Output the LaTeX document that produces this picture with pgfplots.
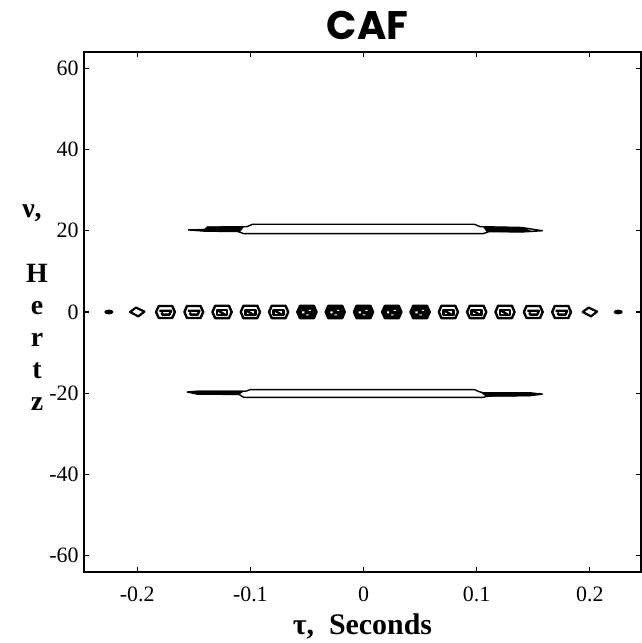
\documentclass[border=0pt]{standalone}
\usepackage{fontspec}
\setmainfont{Liberation Serif}
\newfontfamily\titlefont{Poppins}
\usepackage{pgfplots}
\pgfplotsset{compat=1.18}
\usetikzlibrary{calc}

\newcommand\hexpath[2]{%
 \pgfpathmoveto{\pgfpoint{-#1}{0pt}}%
 \pgfpathlineto{\pgfpoint{-0.72*#1}{#2}}%
 \pgfpathlineto{\pgfpoint{0.72*#1}{#2}}%
 \pgfpathlineto{\pgfpoint{#1}{0pt}}%
 \pgfpathlineto{\pgfpoint{0.72*#1}{-#2}}%
 \pgfpathlineto{\pgfpoint{-0.72*#1}{-#2}}%
 \pgfpathclose}

\pgfdeclareplotmark{cafdark}{%
 \pgfsetroundjoin
 \hexpath{4.8bp}{3.1bp}\pgfusepath{fill,stroke}%
 \pgfscope
 \pgfsetfillcolor{white}%
 \pgfpathrectangle{\pgfpoint{-2.4bp}{-0.7bp}}{\pgfpoint{1.1bp}{1.0bp}}%
 \pgfpathrectangle{\pgfpoint{0.9bp}{0.5bp}}{\pgfpoint{1.1bp}{0.6bp}}%
 \pgfpathrectangle{\pgfpoint{-0.4bp}{-1.7bp}}{\pgfpoint{1.3bp}{0.5bp}}%
 \pgfusepath{fill}%
 \endpgfscope}

\pgfdeclareplotmark{cafrect}{%
 \pgfsetroundjoin
 \hexpath{4.8bp}{3.1bp}\pgfusepath{stroke}%
 \pgfpathrectangle{\pgfpoint{-2.5bp}{-1.4bp}}{\pgfpoint{5bp}{2.5bp}}%
 \pgfusepath{stroke}%
 \pgfpathmoveto{\pgfpoint{-2.5bp}{1.1bp}}%
 \pgfpathlineto{\pgfpoint{1.5bp}{-1.4bp}}%
 \pgfusepath{stroke}}

\pgfdeclareplotmark{cafring}{%
 \pgfsetroundjoin
 \hexpath{4.7bp}{3bp}\pgfusepath{stroke}%
 \pgfpathmoveto{\pgfpoint{-3bp}{0.6bp}}%
 \pgfpathlineto{\pgfpoint{2.8bp}{0.6bp}}%
 \pgfpathlineto{\pgfpoint{2bp}{-1.3bp}}%
 \pgfpathlineto{\pgfpoint{-1.6bp}{-1.3bp}}%
 \pgfpathlineto{\pgfpoint{-1.9bp}{-0.2bp}}%
 \pgfusepath{stroke}}

\pgfdeclareplotmark{cafdiam}{%
 \pgfsetroundjoin
 \pgfpathmoveto{\pgfpoint{-3.6bp}{0pt}}%
 \pgfpathlineto{\pgfpoint{-0.6bp}{2.2bp}}%
 \pgfpathlineto{\pgfpoint{3.6bp}{0.2bp}}%
 \pgfpathlineto{\pgfpoint{0.6bp}{-2.2bp}}%
 \pgfpathclose
 \pgfusepath{stroke}}

\pgfdeclareplotmark{cafdash}{%
 \pgfpathellipse{\pgfpointorigin}{\pgfpoint{2.3bp}{0pt}}{\pgfpoint{0pt}{1.2bp}}%
 \pgfusepath{fill}}

\begin{document}
\begin{tikzpicture}
\begin{axis}[
 name=ax,
 scale only axis, width=278.5bp, height=260bp,
 xmin=-0.247, xmax=0.2452, ymin=-64, ymax=64,
 xtick={-0.2,-0.1,0,0.1,0.2}, xticklabels={-0.2,-0.1,0,0.1,0.2},
 ytick={-60,-40,-20,0,20,40,60}, yticklabels={-60,-40,-20,0,20,40,60},
 tick align=inside, major tick length=2.5bp,
 tick style={line width=0.6bp, black},
 axis line style={line width=0.8bp},
 ticklabel style={font=\fontsize{11}{11}\selectfont},
 xticklabel style={anchor=base, yshift=-15bp},
 yticklabel style={anchor=east, inner sep=0pt, xshift=-2.5bp},
 every axis title shift=0pt,
 title={\titlefont\bfseries\fontsize{20}{20}\selectfont CAF},
 title style={at={(0.5,1)}, anchor=base, inner sep=0pt, yshift=6bp, xshift=2.5bp},
 xlabel={\bfseries\fontsize{15}{15}\selectfont τ,\ \ Seconds},
 xlabel style={at={(0.5,0)}, anchor=base, inner sep=0pt, yshift=-31.5bp},
]
% contour blobs at nu = 0
\addplot[only marks, mark=cafdash, black] coordinates {(-0.225,0) (0.225,0)};
\addplot[only marks, mark=cafdiam, black, mark options={line width=1.1bp}] coordinates {(-0.2,0) (0.2,0)};
\addplot[only marks, mark=cafring, black, mark options={line width=1.2bp}] coordinates {(-0.175,0) (-0.15,0) (0.15,0) (0.175,0)};
\addplot[only marks, mark=cafrect, black, mark options={line width=1.2bp}] coordinates {(-0.125,0) (-0.1,0) (-0.075,0) (0.075,0) (0.1,0) (0.125,0)};
\addplot[only marks, mark=cafdark, black, mark options={line width=1.2bp}] coordinates {(-0.05,0) (-0.025,0) (0,0) (0.025,0) (0.05,0)};
% upper band near +20 Hz
\addplot[black, line width=0.7bp, line join=round] coordinates {
 (-0.155,20.2) (-0.140,20.3) (-0.138,20.9) (-0.103,21.0) (-0.098,21.6) (0.098,21.6) (0.103,21.0) (0.140,20.8)
 (0.158,20.0) (0.140,19.7) (0.111,19.8) (0.106,19.3) (-0.106,19.3) (-0.111,19.8) (-0.140,19.9) (-0.155,20.2)};
\addplot[black, fill=black, line width=0.3bp] coordinates {
 (-0.142,20.05) (-0.138,20.95) (-0.106,20.95) (-0.109,19.85) (-0.142,19.9) (-0.142,20.05)};
\addplot[black, fill=black, line width=0.3bp] coordinates {
 (0.106,20.95) (0.140,20.8) (0.147,20.1) (0.140,19.7) (0.109,19.8) (0.106,20.95)};
% lower band near -20 Hz
\addplot[black, line width=0.7bp, line join=round] coordinates {
 (-0.156,-19.7) (-0.147,-19.5) (-0.104,-19.5) (-0.100,-19.1) (0.098,-19.1) (0.102,-19.6) (0.106,-19.9) (0.147,-19.9)
 (0.158,-20.2) (0.147,-20.6) (0.110,-20.7) (0.106,-21.0) (-0.106,-21.0) (-0.110,-20.3) (-0.147,-20.2) (-0.156,-19.7)};
\addplot[black, fill=black, line width=0.3bp] coordinates {
 (-0.151,-19.85) (-0.147,-19.45) (-0.106,-19.45) (-0.110,-20.3) (-0.147,-20.25) (-0.151,-19.85)};
\addplot[black, fill=black, line width=0.3bp] coordinates {
 (0.104,-19.8) (0.147,-19.85) (0.153,-20.25) (0.147,-20.65) (0.108,-20.7) (0.104,-19.8)};
\end{axis}
\node[font=\bfseries\fontsize{14}{14}\selectfont] at ($(ax.south west)!0.69!(ax.north west)+(-26bp,0)$) {ν,};
\node[font=\bfseries\fontsize{14}{16}\selectfont, align=center, inner sep=0pt] at ($(ax.south west)!0.451!(ax.north west)+(-23.5bp,0)$) {H\\e\\r\\t\\z};
\path ($(ax.south west)+(-42bp,-35.5bp)$) rectangle ($(ax.north east)+(0.4bp,26bp)$);
\end{tikzpicture}
\end{document}
